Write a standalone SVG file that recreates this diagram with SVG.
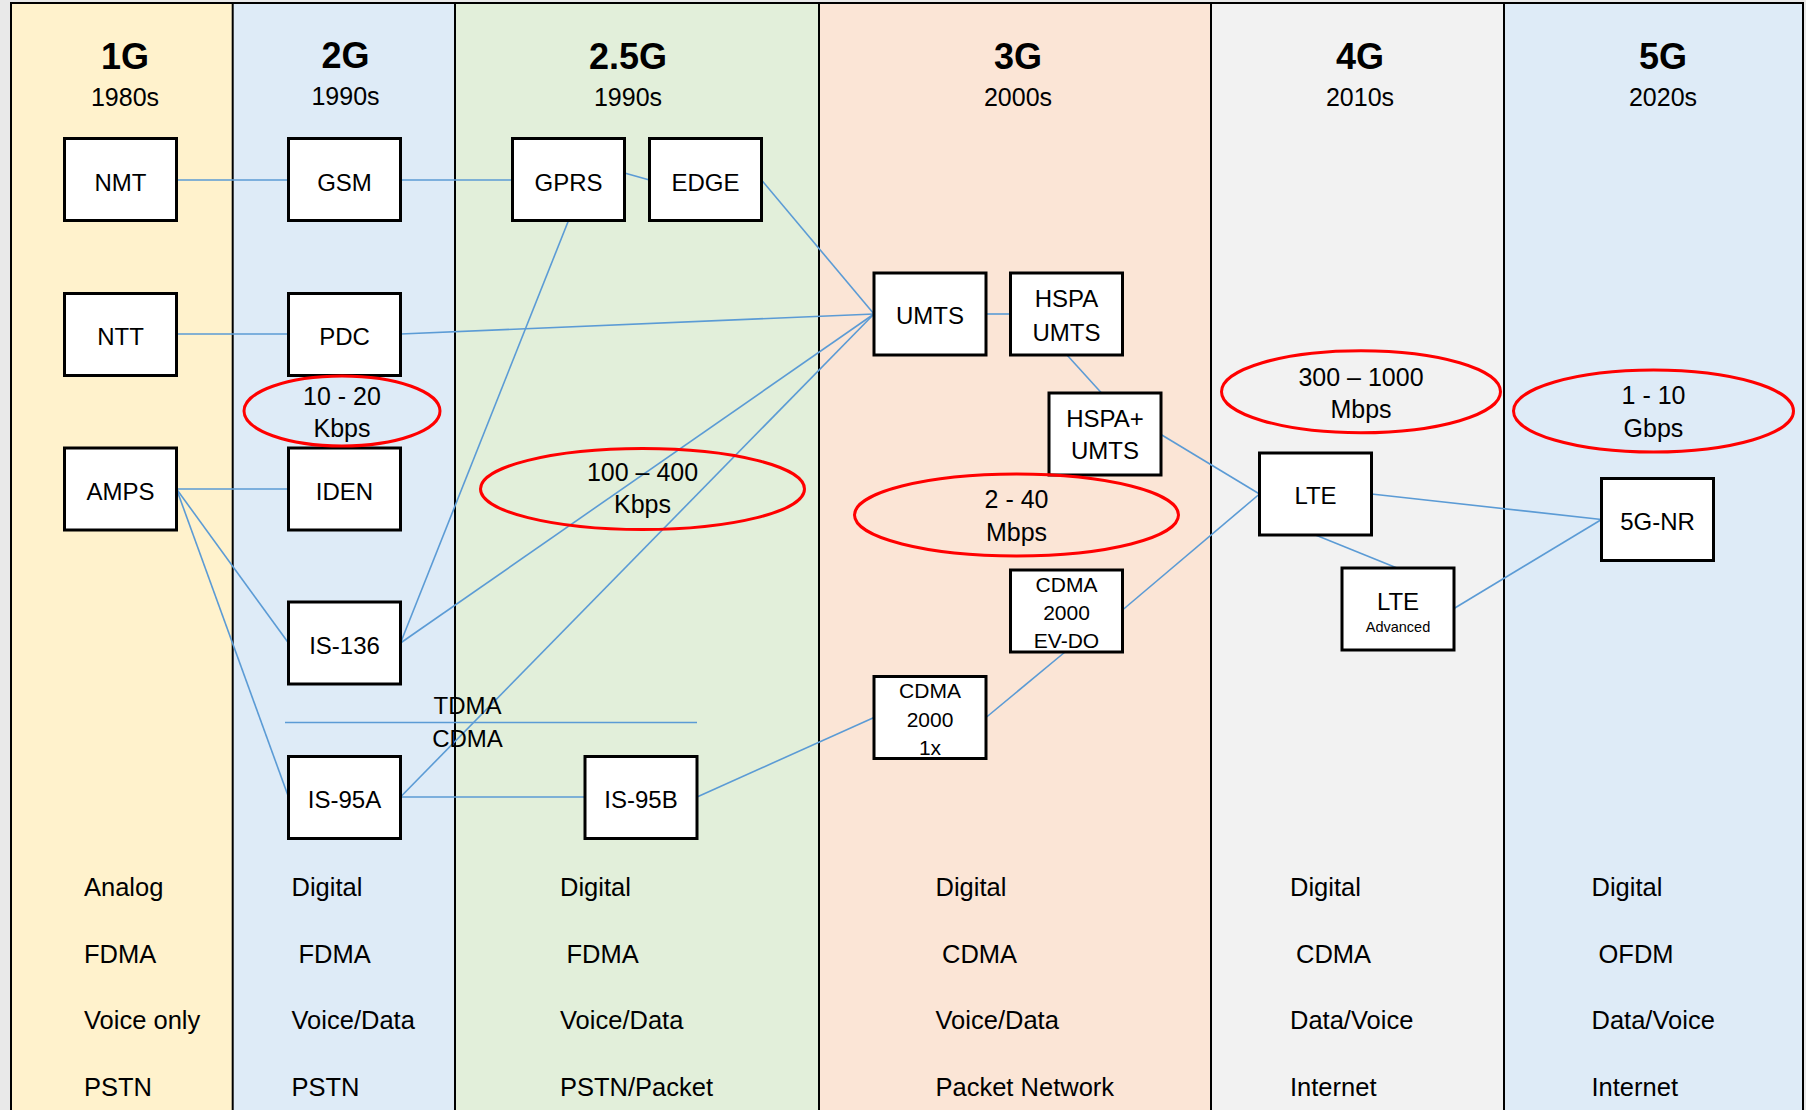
<svg xmlns="http://www.w3.org/2000/svg" width="1806" height="1110" viewBox="0 0 1806 1110">
<style>
  text { font-family: "Liberation Sans", Arial, sans-serif; fill: #000; }
  .h { font-size: 36px; font-weight: bold; text-anchor: middle; }
  .yr { font-size: 25px; text-anchor: middle; }
  .lbl { font-size: 24px; text-anchor: middle; }
  .sm { font-size: 21px; text-anchor: middle; }
  .tiny { font-size: 14.5px; text-anchor: middle; }
  .sp { font-size: 25px; text-anchor: middle; }
  .ft { font-size: 25.5px; }
  .box { fill: #fff; stroke: #000; stroke-width: 3; }
  .ell { fill: none; stroke: #FF0000; stroke-width: 3; }
  .col { stroke: #000; stroke-width: 2; }
  .conn line { stroke: #5B9BD5; stroke-width: 1.6; fill: none; }
</style>
<!-- background columns -->
<g id="columns">
  <rect x="0" y="0" width="1806" height="1110" fill="#E9E9E9"/>
  <rect x="11" y="3" width="221.7" height="1107" fill="#FFF2CC"/>
  <rect x="232.7" y="3" width="222.3" height="1107" fill="#DEEBF7"/>
  <rect x="455" y="3" width="364" height="1107" fill="#E2EFDA"/>
  <rect x="819" y="3" width="392" height="1107" fill="#FBE5D6"/>
  <rect x="1211" y="3" width="293" height="1107" fill="#F2F2F2"/>
  <rect x="1504" y="3" width="299.5" height="1107" fill="#DEEBF7"/>
  <line class="col" x1="11" y1="2" x2="11" y2="1110" stroke-width="2.5"/>
  <line class="col" x1="232.7" y1="3" x2="232.7" y2="1110"/>
  <line class="col" x1="455" y1="3" x2="455" y2="1110"/>
  <line class="col" x1="819" y1="3" x2="819" y2="1110" stroke-width="2.5"/>
  <line class="col" x1="1211" y1="3" x2="1211" y2="1110"/>
  <line class="col" x1="1504" y1="3" x2="1504" y2="1110"/>
  <line class="col" x1="1803" y1="3" x2="1803" y2="1110" stroke-width="2.5"/>
  <line class="col" x1="10" y1="3" x2="1804" y2="3" stroke-width="2.5"/>
</g>
<!-- headings -->
<g id="headings">
  <text class="h" x="125" y="69">1G</text>
  <text class="yr" x="125" y="106">1980s</text>
  <text class="h" x="345.5" y="68">2G</text>
  <text class="yr" x="345.5" y="105">1990s</text>
  <text class="h" x="628" y="69">2.5G</text>
  <text class="yr" x="628" y="106">1990s</text>
  <text class="h" x="1018" y="69">3G</text>
  <text class="yr" x="1018" y="106">2000s</text>
  <text class="h" x="1360" y="69">4G</text>
  <text class="yr" x="1360" y="106">2010s</text>
  <text class="h" x="1663" y="69">5G</text>
  <text class="yr" x="1663" y="106">2020s</text>
</g>
<!-- connectors -->
<g id="connectors" class="conn">
  <line x1="176.5" y1="180" x2="288.5" y2="180"/>
  <line x1="400.5" y1="180" x2="512.5" y2="180"/>
  <line x1="624.5" y1="173" x2="649.5" y2="180"/>
  <line x1="761.5" y1="180" x2="874" y2="314"/>
  <line x1="176.5" y1="334" x2="288.5" y2="334"/>
  <line x1="400.5" y1="334" x2="874" y2="314"/>
  <line x1="176.5" y1="489" x2="288.5" y2="489"/>
  <line x1="176.5" y1="489" x2="288.5" y2="643"/>
  <line x1="176.5" y1="489" x2="288.5" y2="797"/>
  <line x1="568.5" y1="220.5" x2="400.5" y2="643"/>
  <line x1="400.5" y1="643" x2="874" y2="314"/>
  <line x1="400.5" y1="797" x2="874" y2="314"/>
  <line x1="400.5" y1="797" x2="585" y2="797"/>
  <line x1="697" y1="797" x2="874" y2="717.5"/>
  <line x1="986" y1="717.5" x2="1065" y2="652"/>
  <line x1="1122.5" y1="610" x2="1259.5" y2="494"/>
  <line x1="986" y1="314" x2="1010.5" y2="314"/>
  <line x1="1067" y1="355" x2="1101.5" y2="393"/>
  <line x1="1161" y1="434.5" x2="1259.5" y2="494"/>
  <line x1="1371.5" y1="494" x2="1601.5" y2="519.5"/>
  <line x1="1315.5" y1="535" x2="1397" y2="568"/>
  <line x1="1454" y1="608.5" x2="1601.5" y2="519.5"/>
  <line x1="285" y1="722.5" x2="697" y2="722.5"/>
</g>
<!-- nodes -->
<g id="NMT"><rect class="box" x="64.5" y="138.5" width="112" height="82"/><text class="lbl" x="120.5" y="190.5">NMT</text></g>
<g id="GSM"><rect class="box" x="288.5" y="138.5" width="112" height="82"/><text class="lbl" x="344.5" y="190.5">GSM</text></g>
<g id="GPRS"><rect class="box" x="512.5" y="138.5" width="112" height="82"/><text class="lbl" x="568.5" y="190.5">GPRS</text></g>
<g id="EDGE"><rect class="box" x="649.5" y="138.5" width="112" height="82"/><text class="lbl" x="705.5" y="190.5">EDGE</text></g>
<g id="NTT"><rect class="box" x="64.5" y="293.5" width="112" height="82"/><text class="lbl" x="120.5" y="345">NTT</text></g>
<g id="PDC"><rect class="box" x="288.5" y="293.5" width="112" height="82"/><text class="lbl" x="344.5" y="345">PDC</text></g>
<g id="AMPS"><rect class="box" x="64.5" y="448" width="112" height="82"/><text class="lbl" x="120.5" y="499.5">AMPS</text></g>
<g id="IDEN"><rect class="box" x="288.5" y="448" width="112" height="82"/><text class="lbl" x="344.5" y="499.5">IDEN</text></g>
<g id="IS-136"><rect class="box" x="288.5" y="602" width="112" height="82"/><text class="lbl" x="344.5" y="653.5">IS-136</text></g>
<g id="IS-95A"><rect class="box" x="288.5" y="756.5" width="112" height="82"/><text class="lbl" x="344.5" y="808">IS-95A</text></g>
<g id="IS-95B"><rect class="box" x="585" y="756.5" width="112" height="82"/><text class="lbl" x="641" y="808">IS-95B</text></g>
<g id="UMTS"><rect class="box" x="874" y="273" width="112" height="82"/><text class="lbl" x="930" y="323.5">UMTS</text></g>
<g id="HSPA-UMTS"><rect class="box" x="1010.5" y="273" width="112" height="82"/><text class="lbl" x="1066.5" y="306.5">HSPA</text><text class="lbl" x="1066.5" y="340.5">UMTS</text></g>
<g id="HSPAplus-UMTS"><rect class="box" x="1049" y="393" width="112" height="82"/><text class="lbl" x="1105" y="426.5">HSPA+</text><text class="lbl" x="1105" y="459">UMTS</text></g>
<g id="CDMA2000-EVDO"><rect class="box" x="1010.5" y="570" width="112" height="82"/><text class="sm" x="1066.5" y="591.5">CDMA</text><text class="sm" x="1066.5" y="619.5">2000</text><text class="sm" x="1066.5" y="648">EV-DO</text></g>
<g id="CDMA2000-1x"><rect class="box" x="874" y="676.5" width="112" height="82"/><text class="sm" x="930" y="697.5">CDMA</text><text class="sm" x="930" y="726.5">2000</text><text class="sm" x="930" y="755">1x</text></g>
<g id="LTE"><rect class="box" x="1259.5" y="453" width="112" height="82"/><text class="lbl" x="1315.5" y="504">LTE</text></g>
<g id="LTE-Advanced"><rect class="box" x="1342" y="568" width="112" height="82"/><text class="lbl" x="1398" y="609.5">LTE</text><text class="tiny" x="1398" y="632">Advanced</text></g>
<g id="5G-NR"><rect class="box" x="1601.5" y="478.5" width="112" height="82"/><text class="lbl" x="1657.5" y="529.5">5G-NR</text></g>
<!-- speed ellipses -->
<g id="speed-2G"><ellipse class="ell" cx="342" cy="411" rx="98" ry="35"/><text class="sp" x="342" y="405">10 - 20</text><text class="sp" x="342" y="437">Kbps</text></g>
<g id="speed-2_5G"><ellipse class="ell" cx="642.5" cy="489" rx="162" ry="40.5"/><text class="sp" x="642.5" y="480.5">100 – 400</text><text class="sp" x="642.5" y="513">Kbps</text></g>
<g id="speed-3G"><ellipse class="ell" cx="1016.5" cy="515" rx="162" ry="41"/><text class="sp" x="1016.5" y="508">2 - 40</text><text class="sp" x="1016.5" y="541">Mbps</text></g>
<g id="speed-4G"><ellipse class="ell" cx="1361" cy="391.7" rx="139.5" ry="41"/><text class="sp" x="1361" y="386">300 – 1000</text><text class="sp" x="1361" y="418">Mbps</text></g>
<g id="speed-5G"><ellipse class="ell" cx="1653.5" cy="411" rx="140" ry="41"/><text class="sp" x="1653.5" y="404">1 - 10</text><text class="sp" x="1653.5" y="437">Gbps</text></g>
<!-- TDMA / CDMA -->
<g id="tdma-cdma">
  <text class="lbl" x="467.5" y="714">TDMA</text>
  <text class="lbl" x="467.5" y="746.5">CDMA</text>
</g>
<!-- footer properties -->
<g id="properties">
  <text class="ft" x="84" y="896">Analog</text>
  <text class="ft" x="84" y="963">FDMA</text>
  <text class="ft" x="84" y="1029">Voice only</text>
  <text class="ft" x="84" y="1096">PSTN</text>
  <text class="ft" x="291.5" y="896">Digital</text>
  <text class="ft" x="298.5" y="963">FDMA</text>
  <text class="ft" x="291.5" y="1029">Voice/Data</text>
  <text class="ft" x="291.5" y="1096">PSTN</text>
  <text class="ft" x="560" y="896">Digital</text>
  <text class="ft" x="566.5" y="963">FDMA</text>
  <text class="ft" x="560" y="1029">Voice/Data</text>
  <text class="ft" x="560" y="1096">PSTN/Packet</text>
  <text class="ft" x="935.5" y="896">Digital</text>
  <text class="ft" x="942" y="963">CDMA</text>
  <text class="ft" x="935.5" y="1029">Voice/Data</text>
  <text class="ft" x="935.5" y="1096">Packet Network</text>
  <text class="ft" x="1290" y="896">Digital</text>
  <text class="ft" x="1296" y="963">CDMA</text>
  <text class="ft" x="1290" y="1029">Data/Voice</text>
  <text class="ft" x="1290" y="1096">Internet</text>
  <text class="ft" x="1591.5" y="896">Digital</text>
  <text class="ft" x="1598.5" y="963">OFDM</text>
  <text class="ft" x="1591.5" y="1029">Data/Voice</text>
  <text class="ft" x="1591.5" y="1096">Internet</text>
</g>
</svg>
